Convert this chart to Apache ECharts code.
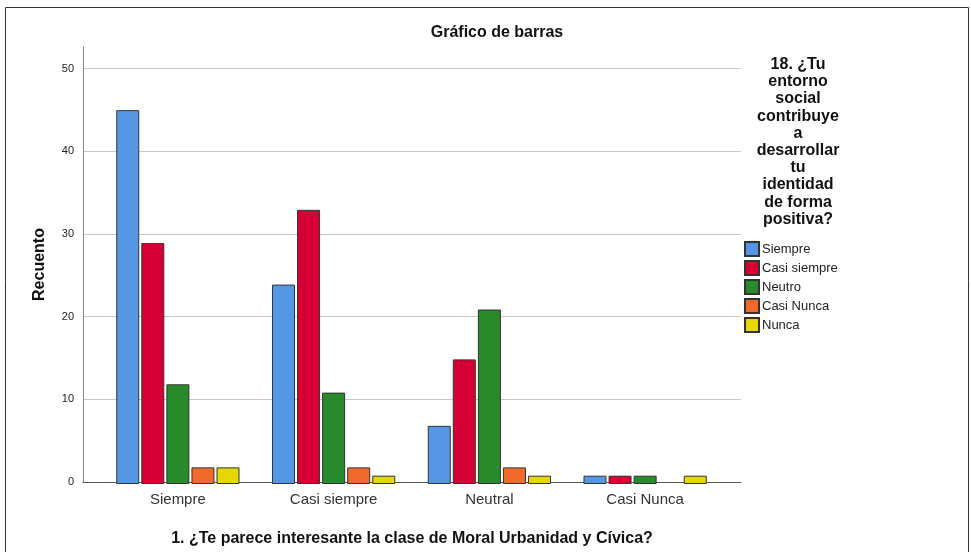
<!DOCTYPE html>
<html>
<head>
<meta charset="utf-8">
<script src="https://cdn.jsdelivr.net/npm/echarts@6/dist/echarts.min.js"></script>
<style>
  html, body { margin: 0; padding: 0; background: #fff; }
  #main { width: 971px; height: 552px; }
</style>
</head>
<body>
<div id="main"></div>
<script>
// categorias del eje X y respuestas de la pregunta 18
var categories = ['Siempre', 'Casi siempre', 'Neutral', 'Casi Nunca'];
var seriesNames = ['Siempre', 'Casi siempre', 'Neutro', 'Casi Nunca', 'Nunca'];
var siempre = [45, 24, 7, 1];
var casiSiempre = [29, 33, 15, 1];
var neutro = [12, 11, 21, 1];
var casiNunca = [2, 2, 2, null];
var nunca = [2, 1, 1, 1];
var colors = ['#5597e4', '#d70034', '#288a2a', '#f26a2b', '#e5d700'];

var font = '"Liberation Sans", Arial, sans-serif';
var values = [siempre, casiSiempre, neutro, casiNunca, nunca];

var myChart = echarts.init(document.getElementById('main'));

var series = seriesNames.map(function (name, i) {
  return {
    name: name,
    type: 'bar',
    xAxisIndex: 1,
    yAxisIndex: 1,
    barWidth: 23,
    barGap: '9%',
    data: values[i],
    itemStyle: { color: colors[i], borderColor: '#333', borderWidth: 1 }
  };
});

var option = {
  animation: false,
  textStyle: { fontFamily: font },
  legend: {
    orient: 'vertical',
    left: 744,
    top: 241,
    padding: 0,
    itemWidth: 14,
    itemHeight: 14,
    itemGap: 3,
    icon: 'rect',
    textStyle: { fontSize: 13, color: '#222', fontFamily: font, padding: [0, 0, 0, -2] },
    data: seriesNames
  },
  grid: [
    { left: 83, right: 230, top: 47, bottom: 68 },
    { left: 100, right: 248, top: 47, bottom: 68 }
  ],
  xAxis: [
    {
      gridIndex: 0, type: 'category', data: [''],
      axisLine: { lineStyle: { color: '#555' } },
      axisTick: { show: false }, axisLabel: { show: false },
      name: '1. ¿Te parece interesante la clase de Moral Urbanidad y Cívica?',
      nameLocation: 'middle', nameGap: 49,
      nameTextStyle: { fontSize: 16, fontWeight: 'bold', color: '#111', fontFamily: font }
    },
    {
      gridIndex: 1, type: 'category', data: categories,
      axisLine: { show: false }, axisTick: { show: false },
      axisLabel: { fontSize: 15, color: '#333', margin: 8, fontFamily: font }
    }
  ],
  yAxis: [
    {
      gridIndex: 0, type: 'value', min: 0, max: 52.6, interval: 10,
      axisLine: { show: true, lineStyle: { color: '#888' } },
      axisTick: { show: false },
      axisLabel: { fontSize: 11, color: '#222', margin: 9, showMaxLabel: false, fontFamily: font },
      splitLine: { showMinLine: false, showMaxLine: false, lineStyle: { color: '#c8c8c8', width: 1 } },
      name: 'Recuento', nameLocation: 'middle', nameGap: 35,
      nameTextStyle: { fontSize: 16, fontWeight: 'bold', color: '#111', fontFamily: font }
    },
    {
      gridIndex: 1, type: 'value', min: 0, max: 52.6, interval: 10,
      show: false, splitLine: { show: false }
    }
  ],
  graphic: [
    {
      type: 'rect', silent: true,
      shape: { x: 5.5, y: 7.5, width: 963, height: 560 },
      style: { fill: 'none', stroke: '#333', lineWidth: 1 }
    },
    {
      type: 'text', x: 497, y: 25,
      style: { text: 'Gráfico de barras', font: 'bold 16px ' + font, fill: '#111', textAlign: 'center' }
    },
    {
      type: 'text', x: 798, y: 56,
      style: {
        text: '18. ¿Tu\nentorno\nsocial\ncontribuye\na\ndesarrollar\ntu\nidentidad\nde forma\npositiva?',
        font: 'bold 16px ' + font, fill: '#111', textAlign: 'center', lineHeight: 17.2
      }
    }
  ],
  series: series
};

myChart.setOption(option);
</script>
</body>
</html>
